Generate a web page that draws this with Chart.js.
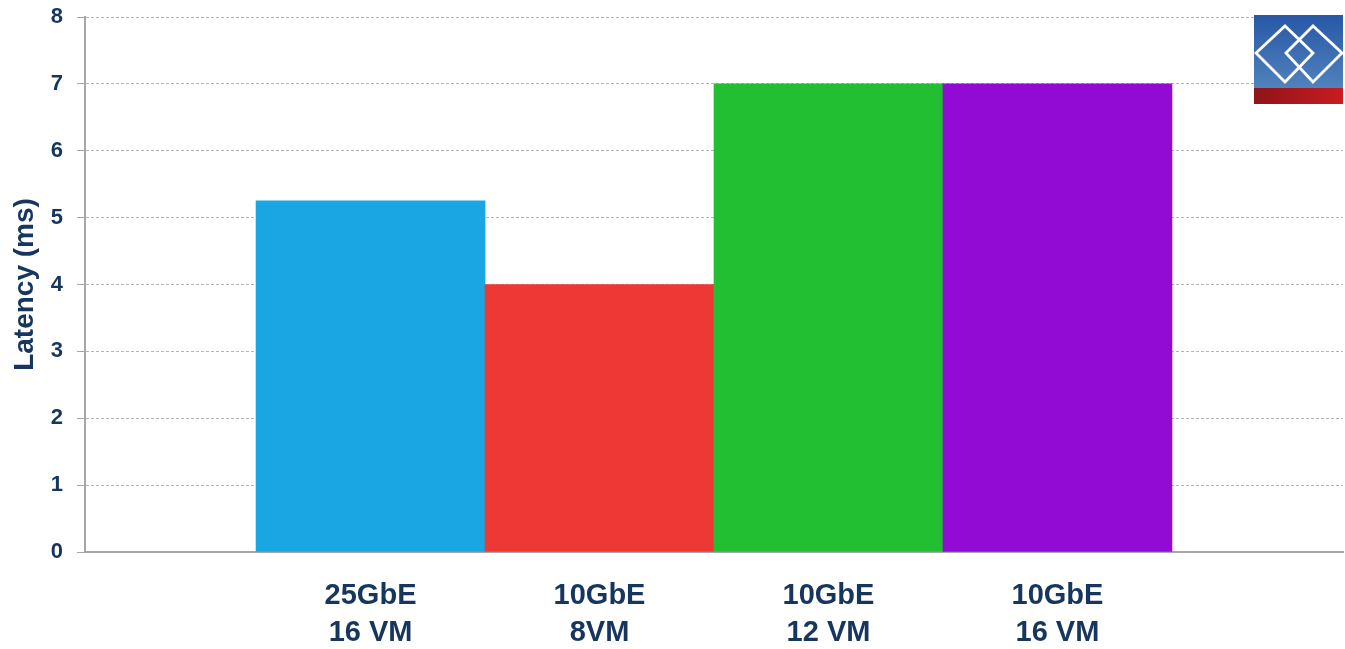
<!DOCTYPE html>
<html>
<head>
<meta charset="utf-8">
<script src="https://cdn.jsdelivr.net/npm/chart.js@4/dist/chart.umd.min.js"></script>
<style>
  html, body { margin: 0; padding: 0; background: #fff; }
  #wrap { position: relative; width: 1345px; height: 649px; }
  #logo { position: absolute; left: 1254px; top: 15px; }
</style>
</head>
<body>
<div id="wrap">
  <canvas id="chart" width="1345" height="649"></canvas>
  <svg id="logo" width="89" height="89" viewBox="0 0 89 89">
    <defs>
      <linearGradient id="blue" x1="0" y1="0" x2="0" y2="1">
        <stop offset="0" stop-color="#2858a6"/>
        <stop offset="1" stop-color="#5082bd"/>
      </linearGradient>
      <linearGradient id="red" x1="0" y1="0" x2="1" y2="0">
        <stop offset="0" stop-color="#8e1418"/>
        <stop offset="1" stop-color="#c81c22"/>
      </linearGradient>
    </defs>
    <rect x="0" y="0" width="89" height="73" fill="url(#blue)"/>
    <rect x="0" y="73" width="89" height="16" fill="url(#red)"/>
    <polygon points="2,38 31,11 59,38 31,67" fill="none" stroke="#fff" stroke-width="2.8"/>
    <polygon points="32,38 59,11 88,38 59,67" fill="none" stroke="#fff" stroke-width="2.8"/>
  </svg>
</div>
<script>
// Latency per network config, one bar each
const labels = [
  ["25GbE", "16 VM"],
  ["10GbE", "8VM"],
  ["10GbE", "12 VM"],
  ["10GbE", "16 VM"],
]
const latency = [5.25, 4.0, 7.0, 7.0]
const colors  = ["#19a6e2", "#ee3835", "#22bf33", "#920bd5"]
const yTicks  = [0, 1, 2, 3, 4, 5, 6, 7, 8]

const navy = "#16365f"
const font = "'Liberation Sans', Arial, sans-serif"

new Chart(document.getElementById("chart"), {
  type: "bar",
  data: {
    datasets: [{
      data: latency.map((y, i) => ({ x: i + 1, y })),
      backgroundColor: colors,
      borderWidth: 0,
      barPercentage: 1,
      categoryPercentage: 1,
    }],
  },
  options: {
    responsive: false,
    animation: false,
    layout: { padding: { top: 17, right: 2, left: 0, bottom: 0 } },
    plugins: { legend: { display: false }, tooltip: { enabled: false } },
    scales: {
      x: {
        type: "linear",
        offset: false,
        min: -0.247,
        max: 5.247,
        afterBuildTicks: (s) => { s.ticks = labels.map((_, i) => ({ value: i + 1 })) },
        afterFit: (s) => { s.height = 97; s.paddingLeft = 0; s.paddingRight = 0 },
        grid: { display: false, drawTicks: false, offset: false },
        border: { display: true, color: "#a6a6a6", width: 2 },
        ticks: {
          padding: 26,
          maxRotation: 0,
          autoSkip: false,
          color: navy,
          font: { family: font, size: 29, weight: "bold", lineHeight: 1.27 },
          callback: (v) => labels[v - 1] || "",
        },
      },
      y: {
        min: 0,
        max: 8,
        afterBuildTicks: (s) => { s.ticks = yTicks.map(value => ({ value })) },
        afterFit: (s) => { s.width = 85; s.paddingTop = 0; s.paddingBottom = 0 },
        grid: { color: "#b4b4b4", lineWidth: 1, tickLength: 8, tickColor: "#a6a6a6" },
        border: { display: true, color: "#a6a6a6", width: 2, dash: [3, 2] },
        ticks: {
          padding: 14,
          color: navy,
          font: { family: font, size: 22, weight: "bold" },
        },
        title: {
          display: true,
          text: "Latency (ms)",
          color: navy,
          padding: { top: 8, bottom: 0 },
          font: { family: font, size: 28, weight: "bold" },
        },
      },
    },
  },
})
</script>
</body>
</html>
